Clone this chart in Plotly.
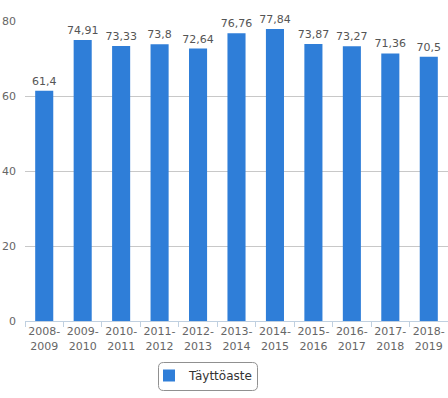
import plotly.graph_objects as go

categories = ["2008-<br>2009", "2009-<br>2010", "2010-<br>2011", "2011-<br>2012", "2012-<br>2013",
              "2013-<br>2014", "2014-<br>2015", "2015-<br>2016", "2016-<br>2017", "2017-<br>2018", "2018-<br>2019"]
values = [61.4, 74.91, 73.33, 73.8, 72.64, 76.76, 77.84, 73.87, 73.27, 71.36, 70.5]
labels = ["61,4", "74,91", "73,33", "73,8", "72,64", "76,76", "77,84", "73,87", "73,27", "71,36", "70,5"]
series_name = "Täyttöaste"

W, H = 448, 398
L, R, T, B = 25, 0, 21, 77
pw, ph = W - L - R, H - T - B

def px(x):
    return (x - L) / pw

def py(y):
    return (H - B - y) / ph

fig = go.Figure()
fig.add_trace(go.Bar(
    x=categories, y=values, name=series_name,
    marker=dict(color="#2f7ed8", line=dict(width=0)),
    text=labels, textposition="outside", cliponaxis=False, constraintext="none",
    textfont=dict(family="DejaVu Sans", size=11, color="#555555"),
    showlegend=True,
))

# rounded legend box
x0, x1, y0, y1, r = 158.5, 257.5, 362.5, 390.5, 5
path = (f"M {px(x0+r)} {py(y0)} L {px(x1-r)} {py(y0)} "
        f"Q {px(x1)} {py(y0)} {px(x1)} {py(y0+r)} L {px(x1)} {py(y1-r)} "
        f"Q {px(x1)} {py(y1)} {px(x1-r)} {py(y1)} L {px(x0+r)} {py(y1)} "
        f"Q {px(x0)} {py(y1)} {px(x0)} {py(y1-r)} L {px(x0)} {py(y0+r)} "
        f"Q {px(x0)} {py(y0)} {px(x0+r)} {py(y0)} Z")

fig.update_layout(
    width=W, height=H,
    margin=dict(l=L, r=R, t=T, b=B, pad=0, autoexpand=False),
    paper_bgcolor="white", plot_bgcolor="white",
    font=dict(family="DejaVu Sans", size=11, color="#666666"),
    bargap=0.53,
    showlegend=True,
    legend=dict(
        orientation="h", x=px(149), y=py(361), xanchor="left", yanchor="top",
        font=dict(family="DejaVu Sans", size=12, color="#333333"),
        bgcolor="rgba(0,0,0,0)", borderwidth=0,
    ),
    shapes=[dict(type="path", path=path, xref="paper", yref="paper",
                 line=dict(color="#909090", width=1), fillcolor="rgba(0,0,0,0)")],
    xaxis=dict(
        showline=True, linecolor="#c0d0e0", linewidth=1, automargin=False,
        ticks="outside", tickson="boundaries", ticklen=5, tickcolor="#c0d0e0",
        showgrid=False, tickangle=0, tickfont=dict(size=11, color="#666666"),
    ),
    yaxis=dict(
        range=[0, 80], dtick=20, showgrid=True, gridcolor="#c8c8c8", gridwidth=1,
        zeroline=False, showline=False, ticks="", ticklabelstandoff=8, automargin=False,
        tickfont=dict(size=11, color="#666666"),
    ),
)

fig.write_html("out.html", config={"displayModeBar": False},
               post_script="document.body.style.margin='0';document.body.style.overflow='hidden';")
